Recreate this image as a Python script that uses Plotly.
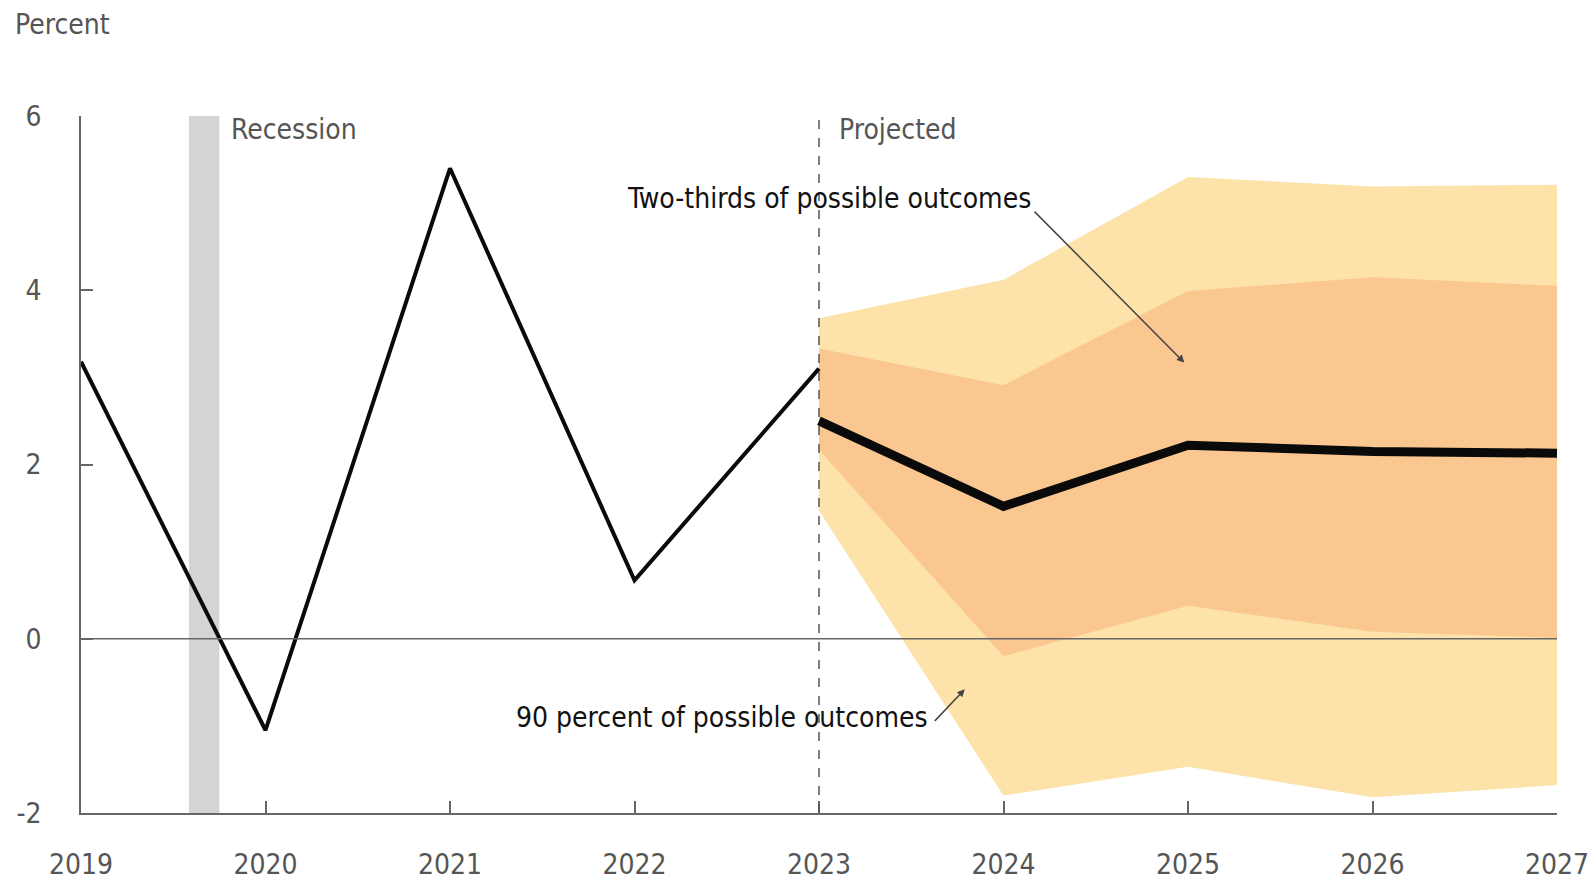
import plotly.graph_objects as go

# historical values
hist_years = [2019, 2020, 2021, 2022, 2023]
hist_vals = [3.18, -1.05, 5.40, 0.67, 3.10]

# projection
proj_years = [2023, 2024, 2025, 2026, 2027]
proj_vals = [2.50, 1.52, 2.22, 2.15, 2.13]
outer_hi = [3.68, 4.12, 5.30, 5.19, 5.21]
outer_lo = [1.47, -1.80, -1.47, -1.82, -1.68]
inner_hi = [3.33, 2.91, 3.99, 4.15, 4.05]
inner_lo = [2.17, -0.20, 0.38, 0.08, 0.01]

recession = [2019.585, 2019.75]
year_ticks = [2019, 2020, 2021, 2022, 2023, 2024, 2025, 2026, 2027]
y_ticks = [-2, 0, 2, 4, 6]
y_labels = ["-2", "0", "2", "4", "6"]

FONT = "Liberation Sans Narrow, DejaVu Sans Condensed, Roboto, sans-serif"
GREY = "#555555"
FS = 28

fig = go.Figure()

# recession bar
fig.add_vrect(x0=recession[0], x1=recession[1], y0=0, y1=1,
              fillcolor="#d4d4d4", line_width=0, layer="below")

# bands
fig.add_trace(go.Scatter(x=proj_years + proj_years[::-1], y=outer_hi + outer_lo[::-1],
                         fill="toself", fillcolor="#fde2aa", line_width=0,
                         mode="none", hoverinfo="skip"))
fig.add_trace(go.Scatter(x=proj_years + proj_years[::-1], y=inner_hi + inner_lo[::-1],
                         fill="toself", fillcolor="#fbc790", line_width=0,
                         mode="none", hoverinfo="skip"))

# zero line
fig.add_hline(y=0, line_color="#666666", line_width=1.5)

# projected divider
fig.add_vline(x=2023, line_color=GREY, line_width=1.5, line_dash="dash")

fig.add_trace(go.Scatter(x=hist_years, y=hist_vals, mode="lines",
                         line=dict(color="#0a0a0a", width=4)))
fig.add_trace(go.Scatter(x=proj_years, y=proj_vals, mode="lines",
                         line=dict(color="#0a0a0a", width=9)))

fig.add_annotation(x=recession[1], y=5.84, xref="x", yref="y", text="Recession",
                   showarrow=False, xanchor="left", xshift=10,
                   font=dict(color=GREY, size=FS))
fig.add_annotation(x=2023, y=5.84, text="Projected", showarrow=False,
                   xanchor="left", xshift=18, font=dict(color=GREY, size=FS))

fig.add_annotation(x=2024.98, y=3.17, ax=2024.16, ay=4.92, axref="x", ayref="y",
                   showarrow=True, arrowhead=2, arrowsize=1, arrowwidth=1.5,
                   arrowcolor="#444444", text="")
fig.add_annotation(x=2024.16, y=5.05, text="Two-thirds of possible outcomes",
                   showarrow=False, xanchor="right", xshift=0,
                   font=dict(color="#111111", size=FS))

fig.add_annotation(x=2023.79, y=-0.58, ax=2023.62, ay=-0.96, axref="x", ayref="y",
                   showarrow=True, arrowhead=2, arrowsize=1, arrowwidth=1.5,
                   arrowcolor="#444444", text="")
fig.add_annotation(x=2023.6, y=-0.9, text="90 percent of possible outcomes",
                   showarrow=False, xanchor="right", xshift=0,
                   font=dict(color="#111111", size=FS))

fig.add_annotation(x=0, y=1, xref="paper", yref="paper", text="Percent",
                   showarrow=False, xanchor="left", yanchor="bottom",
                   xshift=-68, yshift=73, font=dict(color=GREY, size=FS))

fig.update_layout(
    width=1596, height=882,
    margin=dict(l=73, r=47, t=108, b=77),
    plot_bgcolor="white", paper_bgcolor="white",
    showlegend=False,
    font=dict(family=FONT, color=GREY, size=FS),
    xaxis=dict(range=[2019, 2027], tickvals=year_ticks, ticks="inside", ticklen=12,
               tickcolor="#666666", tickwidth=1.5, showline=True, linecolor="#666666",
               linewidth=1.5, showgrid=False, zeroline=False, ticklabelstandoff=26,
               automargin=False),
    yaxis=dict(range=[-2, 6], tickvals=y_ticks, ticktext=y_labels, ticks="inside",
               ticklen=12, tickcolor="#666666", tickwidth=1.5, showline=True,
               linecolor="#666666", linewidth=1.5, showgrid=False, zeroline=False,
               ticklabelstandoff=32, automargin=False),
)

fig.write_html("out.html")
